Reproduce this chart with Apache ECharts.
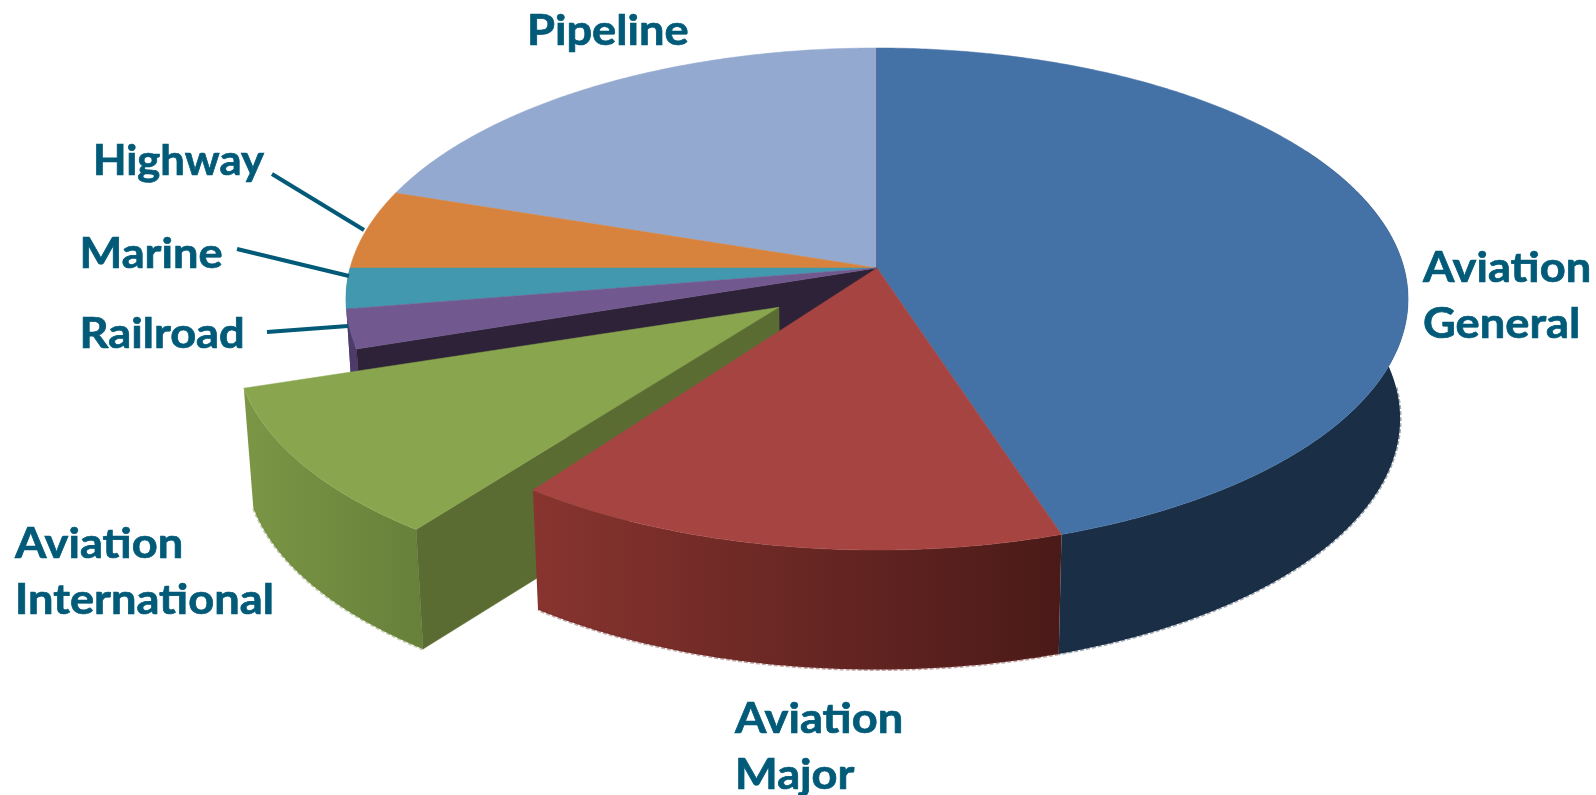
<!DOCTYPE html>
<html>
<head>
<meta charset="utf-8">
<style>html,body{margin:0;padding:0;background:#fff}#chart{width:1596px;height:795px}</style>
<script src="https://cdn.jsdelivr.net/npm/echarts@6/dist/echarts.min.js"></script>
</head>
<body>
<div id="chart"></div>
<script>
// ---- data (clockwise from 12 o'clock) ----
const categories = ['Aviation General', 'Aviation Major', 'Aviation International', 'Railroad', 'Marine', 'Highway', 'Pipeline'];
const shares = [45, 15, 9.9, 2.5, 2.6, 5.1, 19.9];
const labelLines = [['Aviation', 'General'], ['Aviation', 'Major'], ['Aviation', 'International'], ['Railroad'], ['Marine'], ['Highway'], ['Pipeline']];
const explode = [0, 0, 0.24, 0, 0, 0, 0];
const explodeDir = [0, 0, 229.5, 0, 0, 0, 0];
const flatten = [1, 1, 0.96, 1, 1, 1, 1];

// ---- styling / layout ----
const topColors = ['#4471A6', '#A54441', '#89A54E', '#71588F', '#4198AF', '#D7823D', '#93A9CF'];
const wallColors = [['#1A2E45', '#1A2E45'], ['#88342F', '#4A1A18'], ['#7B9645', '#67803A'], ['#4E3A6B', '#4E3A6B'], ['#2C6E80', '#2C6E80'], null, null];
const cutColors = ['#1A2E45', null, '#5B6C33', '#2D2238', null, null, null];
const bottomEdge = ['#1A2E45', '#6B2A28', '#6E873C', null, null, null, null];
const paintRank = [30, 40, 20, 10, 5, 3, 2];
const labelBoxes = [[1423, 268.5], [735, 719.5], [15, 544.5], [79.5, 334.5], [79.5, 254.5], [93, 161.5], [527, 32]];
const labelStretch = [1.09, 1.09, 1.09, 1.09, 1.09, 1.05, 1.09];
const leaders = [null, null, null, [267, 332, 348, 326], [237, 249, 349, 276], [272, 174, 364, 230], null];
const textColor = '#005A78';
const LINE_H = 56.5;
const view = { cx: 877, cy: 268, a: 247.2, b: 527, k: 0.1235, depth: 119.5, shrink: 0.985 };

const total = shares.reduce((s, x) => s + x, 0);
const starts = shares.reduce((acc, x, i) => { acc.push(i ? acc[i - 1] + shares[i - 1] : 0); return acc; }, []);

function project(u, v, low, off, flat) {
  const w = 1 - view.k * v;
  const x = view.b * u / w;
  let y = view.a * v / w;
  if (flat !== 1) {
    const wt = 1 - view.k * off[1];
    const yt = view.a * off[1] / wt;
    y = yt + (y - yt) * flat;
  }
  return low ? [view.cx + x * view.shrink, view.cy + y + view.depth] : [view.cx + x, view.cy + y];
}
function rimPoint(deg, off, low, flat) {
  const t = deg * Math.PI / 180;
  return project(Math.sin(t) + off[0], -Math.cos(t) + off[1], low, off, flat);
}
function arc(a0, a1, off, low, flat) {
  const pts = [], n = Math.max(2, Math.ceil(Math.abs(a1 - a0) * 2));
  for (let i = 0; i <= n; i++) pts.push(rimPoint(a0 + (a1 - a0) * i / n, off, low, flat));
  return pts;
}

function renderItem(params, api) {
  const i = params.dataIndex;
  const val = api.value(0);
  const a0 = starts[i] / total * 360, a1 = (starts[i] + val) / total * 360;
  const dir = explodeDir[i] * Math.PI / 180;
  const off = [Math.sin(dir) * explode[i], -Math.cos(dir) * explode[i]];
  const flat = flatten[i];
  const z = paintRank[i];
  const kids = [];
  // rim wall
  if (wallColors[i]) {
    const fromA = Math.max(a0, 60);
    const pts = arc(fromA, a1, off, false, flat).concat(arc(fromA, a1, off, true, flat).reverse());
    kids.push({
      type: 'polygon', z2: z, shape: { points: pts },
      style: { fill: new echarts.graphic.LinearGradient(0, 0, 1, 0, [
        { offset: 0, color: wallColors[i][0] }, { offset: 1, color: wallColors[i][1] }]) }
    });
  }
  // pale fringe under the wall
  if (bottomEdge[i]) {
    const fromA = Math.max(a0, 90);
    kids.push({
      type: 'polyline', z2: z, shape: { points: arc(fromA, a1, off, true, flat) },
      style: { stroke: bottomEdge[i], opacity: 0.4, lineWidth: 3, fill: null, lineDash: [4, 2] }
    });
  }
  // cut face at the start edge, exposed by the exploded slice
  if (cutColors[i]) {
    const c = project(off[0], off[1], false, off, flat), cl = project(off[0], off[1], true, off, flat);
    const r = rimPoint(a0, off, false, flat), rl = rimPoint(a0, off, true, flat);
    kids.push({
      type: 'polygon', z2: z + 1, shape: { points: [c, r, rl, cl] },
      style: { fill: cutColors[i], stroke: cutColors[i], lineWidth: 0.5 }
    });
  }
  // top face
  kids.push({
    type: 'polygon', z2: z + 2,
    shape: { points: [project(off[0], off[1], false, off, flat)].concat(arc(a0, a1, off, false, flat)) },
    style: { fill: topColors[i], stroke: topColors[i], lineWidth: 0.5 }
  });
  // label
  labelLines[i].forEach((line, n) => {
    kids.push({
      type: 'text', z2: 100,
      x: labelBoxes[i][0], y: labelBoxes[i][1] + n * LINE_H,
      scaleX: labelStretch[i], scaleY: 1,
      style: {
        text: line, x: 0, y: 0,
        fill: textColor, stroke: textColor, lineWidth: 0.7,
        font: '700 41.5px Lato', textAlign: 'left', textVerticalAlign: 'middle'
      }
    });
  });
  // leader
  if (leaders[i]) {
    const l = leaders[i];
    kids.push({
      type: 'line', z2: 100, shape: { x1: l[0], y1: l[1], x2: l[2], y2: l[3] },
      style: { stroke: textColor, lineWidth: 4 }
    });
  }
  return { type: 'group', children: kids };
}

const chart = echarts.init(document.getElementById('chart'), null, { renderer: 'canvas' });
chart.setOption({
  animation: false,
  backgroundColor: '#ffffff',
  series: [{
    type: 'custom',
    coordinateSystem: 'none',
    renderItem: renderItem,
    data: categories.map((name, i) => ({ name: name, value: [shares[i]] })),
    silent: true
  }]
});
</script>
</body>
</html>
